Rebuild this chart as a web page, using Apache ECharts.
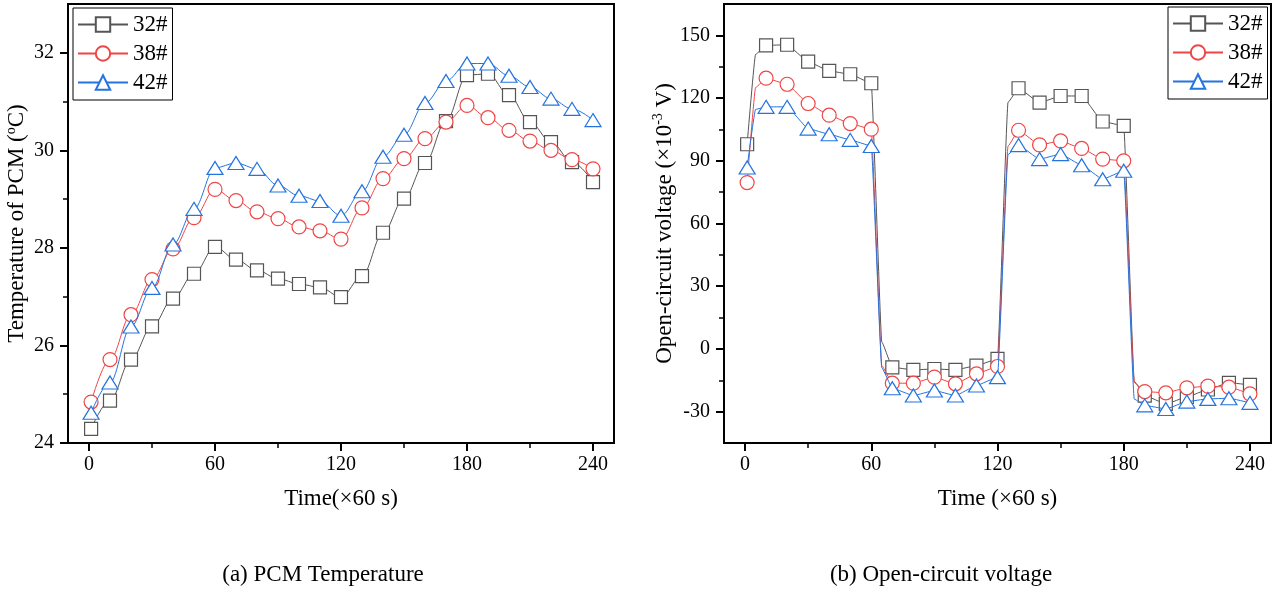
<!DOCTYPE html>
<html>
<head>
<meta charset="utf-8">
<script src="https://cdn.jsdelivr.net/npm/echarts@6/dist/echarts.min.js"></script>
<style>
  html, body { margin: 0; padding: 0; background: #fff; }
  #chart { width: 1277px; height: 596px; }
</style>
</head>
<body>
<div id="chart"></div>
<script>
// (a) PCM temperature, sampled every 10 (x60 s)
const tempTime = [1, 10, 20, 30, 40, 50, 60, 70, 80, 90, 100, 110, 120, 130, 140, 150, 160, 170, 180, 190, 200, 210, 220, 230, 240]
const temp32 = [24.29, 24.87, 25.71, 26.39, 26.96, 27.47, 28.02, 27.76, 27.54, 27.37, 27.26, 27.19, 26.99, 27.42, 28.31, 29.01, 29.74, 30.60, 31.54, 31.57, 31.13, 30.58, 30.17, 29.76, 29.35]
const temp38 = [24.84, 25.71, 26.63, 27.35, 27.98, 28.62, 29.20, 28.97, 28.74, 28.60, 28.43, 28.35, 28.18, 28.82, 29.42, 29.83, 30.24, 30.58, 30.92, 30.67, 30.41, 30.19, 30.00, 29.81, 29.62]
const temp42 = [24.62, 25.24, 26.39, 27.18, 28.07, 28.80, 29.64, 29.74, 29.62, 29.28, 29.07, 28.96, 28.66, 29.16, 29.87, 30.32, 30.97, 31.42, 31.78, 31.78, 31.53, 31.30, 31.06, 30.85, 30.62]

// (b) open-circuit voltage (x10^-3 V); 5/65/125/185 are the switching corners (no marker)
const voltTime = [1, 5, 10, 20, 30, 40, 50, 60, 65, 70, 80, 90, 100, 110, 120, 125, 130, 140, 150, 160, 170, 180, 185, 190, 200, 210, 220, 230, 240]
const volt32 = [97.9, 140.9, 145.2, 145.5, 137.4, 133.0, 131.4, 127.1, 3.3, -8.8, -10.0, -9.6, -10.0, -8.0, -4.8, 118.0, 124.7, 117.8, 121.0, 121.0, 108.8, 106.7, -15.5, -22.3, -26.3, -23.0, -19.4, -16.2, -17.2]
const volt38 = [79.6, 125.0, 129.5, 126.6, 117.4, 111.8, 107.8, 105.1, -8.0, -16.4, -16.4, -13.5, -16.7, -11.9, -8.4, 97.0, 104.6, 97.6, 99.5, 95.9, 90.8, 90.0, -16.0, -20.4, -21.0, -18.6, -17.8, -18.3, -21.5]
const volt42 = [86.8, 114.6, 115.8, 115.8, 105.4, 102.7, 100.0, 97.1, -9.0, -18.8, -22.3, -19.9, -22.3, -17.5, -13.5, 93.0, 97.5, 90.8, 93.2, 87.9, 81.2, 85.2, -24.0, -27.0, -28.7, -25.2, -23.9, -23.6, -25.8]

const seriesNames = ['32#', '38#', '42#']

const timeTicks = [0, 60, 120, 180, 240]
const timeMinor = [30, 90, 150, 210]
const tempTicks = [24, 26, 28, 30, 32]
const tempMinor = [25, 27, 29, 31]
const voltTicks = [-30, 0, 30, 60, 90, 120, 150]
const voltMinor = [-15, 15, 45, 75, 105, 135]

const FONT = '"Liberation Serif", "Times New Roman", serif'
const colors = ['#555555', '#f04545', '#2474e0']
const symbols = ['rect', 'circle', 'triangle']
const symbolSizes = [13, 14, [16, 13]]

const chart = echarts.init(document.getElementById('chart'))

const toPairs = (times, values) => times.map((t, i) => [t, values[i]])
const toVoltData = (values) => voltTime.map((t, i) =>
  (t === 1 || t % 10 === 0) ? [t, values[i]] : { value: [t, values[i]], symbol: 'none' }
)

const makeSeries = (idx, data, axis, smooth) => ({
  name: seriesNames[idx],
  type: 'line',
  data,
  xAxisIndex: axis,
  yAxisIndex: axis,
  symbol: symbols[idx],
  symbolSize: symbolSizes[idx],
  showAllSymbol: true,
  smooth,
  smoothMonotone: 'x',
  lineStyle: { color: colors[idx], width: 1 },
  itemStyle: { color: '#fff', borderColor: colors[idx], borderWidth: 1.2 },
  emphasis: { disabled: true },
  z: 2 + idx,
})

const majorAxis = (type, grid, min, max, ticks, name, nameGap, rich) => ({
  type: 'value',
  gridIndex: grid,
  min,
  max,
  position: type === 'x' ? 'bottom' : 'left',
  name,
  nameLocation: 'middle',
  nameGap,
  nameTextStyle: { fontFamily: FONT, fontSize: 23, color: '#000', rich },
  axisLine: { show: true, onZero: false, lineStyle: { color: '#000', width: 2 } },
  axisTick: { show: true, inside: false, length: 8, customValues: ticks, lineStyle: { color: '#000', width: 2 } },
  axisLabel: { show: true, customValues: ticks, margin: type === 'x' ? 12 : 14, fontFamily: FONT, fontSize: 20, color: '#000' },
  splitLine: { show: false },
})

const minorAxis = (type, grid, min, max, ticks) => ({
  type: 'value',
  gridIndex: grid,
  min,
  max,
  position: type === 'x' ? 'bottom' : 'left',
  axisLine: { show: false, onZero: false },
  axisTick: { show: true, inside: false, length: 5, customValues: ticks, lineStyle: { color: '#000', width: 1.5 } },
  axisLabel: { show: true, customValues: ticks, formatter: () => '' },
  splitLine: { show: false },
})

const legendBox = (left, top) => ({
  left,
  top,
  orient: 'vertical',
  data: seriesNames,
  itemWidth: 50,
  itemHeight: 18,
  itemGap: 6,
  padding: [5, 5, 6, 4],
  borderColor: '#000',
  borderWidth: 1,
  borderRadius: 0,
  backgroundColor: '#fff',
  textStyle: { fontFamily: FONT, fontSize: 23, color: '#000', lineHeight: 22 },
  selectedMode: false,
})

const nameRich = {
  n: { fontFamily: FONT, fontSize: 23, color: '#000', lineHeight: 26 },
  s: { fontFamily: FONT, fontSize: 14, color: '#000', lineHeight: 14, verticalAlign: 'top' },
}

chart.setOption({
  animation: false,
  backgroundColor: '#fff',
  grid: [
    { left: 68, top: 4, width: 546, height: 439, show: true, borderColor: '#000', borderWidth: 2, backgroundColor: 'transparent' },
    { left: 724, top: 4, width: 547, height: 439, show: true, borderColor: '#000', borderWidth: 2, backgroundColor: 'transparent' },
  ],
  legend: [legendBox(73, 8), legendBox(1168, 7)],
  xAxis: [
    majorAxis('x', 0, -10, 250, timeTicks, 'Time(×60 s)', 44),
    minorAxis('x', 0, -10, 250, timeMinor),
    majorAxis('x', 1, -10, 250, timeTicks, 'Time (×60 s)', 44),
    minorAxis('x', 1, -10, 250, timeMinor),
  ],
  yAxis: [
    majorAxis('y', 0, 24, 33, tempTicks, '{n|Temperature of PCM (}{s|o}{n|C)}', 38, nameRich),
    minorAxis('y', 0, 24, 33, tempMinor),
    majorAxis('y', 1, -45, 165, voltTicks, '{n|Open-circuit voltage (×10}{s|-3}{n| V)}', 44, nameRich),
    minorAxis('y', 1, -45, 165, voltMinor),
  ],
  series: [
    makeSeries(0, toPairs(tempTime, temp32), 0, 0.35),
    makeSeries(1, toPairs(tempTime, temp38), 0, 0.35),
    makeSeries(2, toPairs(tempTime, temp42), 0, 0.35),
    makeSeries(0, toVoltData(volt32), 2, 0.12),
    makeSeries(1, toVoltData(volt38), 2, 0.12),
    makeSeries(2, toVoltData(volt42), 2, 0.12),
  ],
  graphic: [
    { type: 'text', x: 323, y: 575, style: { text: '(a) PCM Temperature', fontFamily: FONT, fontSize: 23, fill: '#000', align: 'center', verticalAlign: 'middle' } },
    { type: 'text', x: 941, y: 575, style: { text: '(b) Open-circuit voltage', fontFamily: FONT, fontSize: 23, fill: '#000', align: 'center', verticalAlign: 'middle' } },
  ],
})
</script>
</body>
</html>
